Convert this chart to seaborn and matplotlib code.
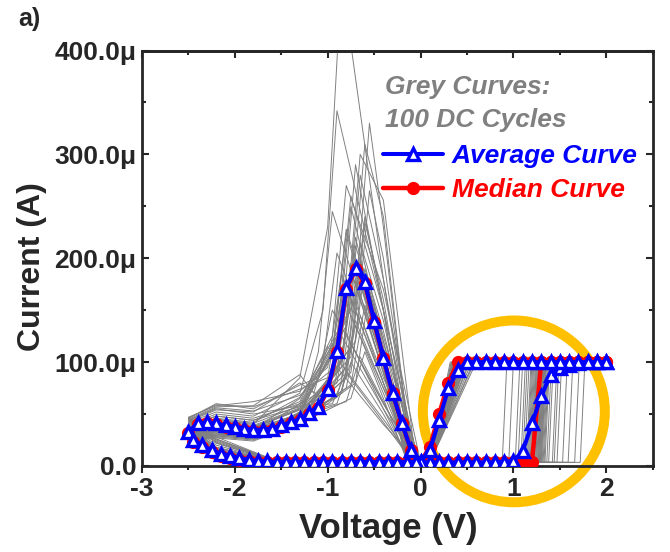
import numpy as np
import pandas as pd
import matplotlib
matplotlib.use('Agg')
import matplotlib.pyplot as plt
import seaborn as sns
from matplotlib.lines import Line2D
from matplotlib.patches import Ellipse
from matplotlib.ticker import FuncFormatter, MultipleLocator

# ---- sweep voltages (V), 0.1 V steps ----
v_up = [0.0, 0.1, 0.2, 0.3, 0.4, 0.5, 0.6, 0.7, 0.8, 0.9, 1.0,
        1.1, 1.2, 1.3, 1.4, 1.5, 1.6, 1.7, 1.8, 1.9, 2.0]
v_down = v_up[::-1]
v_neg = [0.0, -0.1, -0.2, -0.3, -0.4, -0.5, -0.6, -0.7, -0.8, -0.9, -1.0, -1.1, -1.2,
         -1.3, -1.4, -1.5, -1.6, -1.7, -1.8, -1.9, -2.0, -2.1, -2.2, -2.3, -2.4, -2.5]
v_back = [-2.45, -2.35, -2.25, -2.15, -2.05, -1.95, -1.85, -1.75, -1.65, -1.55, -1.45,
          -1.35, -1.25, -1.15, -1.05, -0.95, -0.85, -0.75, -0.65, -0.55, -0.45, -0.35,
          -0.25, -0.15, -0.05]

# ---- average curve (uA) ----
avg_up = [3.5, 3.5, 3.5, 3.5, 3.5, 3.5, 3.5, 3.5, 3.5, 4, 5, 14, 41, 67, 88, 94, 97, 99, 100, 100, 100]
avg_down = [100, 100, 100, 100, 100, 100, 100, 100, 100, 100, 100, 100, 100, 100, 100, 100, 92, 75, 44, 15, 4]
avg_neg = [4, 15, 41, 70, 104, 140, 177, 191, 171, 111, 74, 57, 51, 45, 42, 39, 36, 35, 35, 36,
           38, 39, 41, 42, 41, 33]
avg_back = [25, 20, 15, 12, 10, 7.5, 6, 5, 4.5, 4, 4, 4, 4, 4, 4, 4, 4, 4, 4, 4, 4, 4, 4, 4, 4]

# ---- median curve (uA) ----
med_up = [3.5, 3.5, 3.5, 3.5, 3.5, 3.5, 3.5, 3.5, 3.5, 3.5, 3.5, 3.5, 3.5, 100, 100, 100, 100, 100, 100, 100, 100]
med_down = [100, 100, 100, 100, 100, 100, 100, 100, 100, 100, 100, 100, 100, 100, 100, 100, 100, 80, 50, 18, 4]
med_neg = [4, 15, 41, 70, 104, 139, 176, 190, 170, 110, 73, 56, 50, 44, 41, 38, 35, 34, 34, 35,
           37, 38, 40, 41, 40, 32]
med_back = [23, 18, 13, 10, 8, 6, 4.5, 4, 3.5, 3.5, 3.5, 3.5, 3.5, 3.5, 3.5, 3.5, 3.5, 3.5, 3.5,
            3.5, 3.5, 3.5, 3.5, 3.5, 3.5]

# ---- grey cycles: key points of each DC cycle (V, uA) ----
set_v = [1.22, 0.88, 1.28, 1.15, 1.30, 1.42, 1.20, 0.95, 1.25, 1.34, 1.10, 1.27, 1.53, 1.18, 1.30,
         1.02, 1.24, 1.66, 1.28, 1.12, 1.36, 1.20, 1.47, 1.26, 1.16, 1.72, 1.22, 1.32, 1.05, 1.59,
         1.23, 1.29, 1.19, 1.31, 1.26, 1.14, 1.33, 1.21, 1.27, 1.08, 1.38, 1.24, 1.29, 1.17, 1.44]
on_v = [0.42, 0.35, 0.50, 0.38, 0.45, 0.33, 0.55, 0.40, 0.36, 0.48, 0.43, 0.39, 0.60, 0.37, 0.44,
        0.34, 0.52, 0.41, 0.38, 0.46, 0.35, 0.58, 0.40, 0.37, 0.47, 0.32, 0.43, 0.39, 0.50, 0.36,
        0.41, 0.38, 0.45, 0.36, 0.49, 0.43, 0.34, 0.47, 0.40, 0.53, 0.37, 0.44, 0.39, 0.57, 0.42]
toe_v = [-0.08, -0.02, -0.10, -0.05, -0.12, 0.00, -0.07, -0.03, -0.14, -0.09, -0.04, -0.11, -0.06,
         -0.01, -0.13, -0.08, -0.05, -0.02, -0.10, -0.15, -0.07, -0.03, -0.12, -0.09, -0.04,
         -0.06, -0.14, -0.11, -0.02, -0.08, -0.10, -0.05, -0.03, -0.13, -0.07, -0.01, -0.09,
         -0.12, -0.06, -0.04, -0.15, -0.08, -0.11, -0.02, -0.07]
shoulder_i = [180, 150, 240, 256, 150, 170, 200, 120, 90, 160, 100, 110, 140, 85, 95,
              90, 130, 80, 100, 115, 80, 60, 80, 70, 55, 45, 65, 50, 40, 42,
              230, 180, 150, 150, 110, 125, 120, 90, 100, 75, 95, 75, 55, 60, 62]
peak_v = [-0.85, -0.90, -0.60, -0.65, -0.70, -0.80, -0.55, -0.75, -0.95, -0.60, -0.80, -0.70, -0.65,
          -0.90, -0.70, -0.75, -0.60, -0.85, -0.65, -0.55, -0.75, -0.95, -0.65, -0.70, -0.85,
          -1.00, -0.60, -0.75, -0.90, -0.80,
          -0.55, -0.65, -0.75, -0.60, -0.80, -0.70, -0.65, -0.75, -0.70, -0.85, -0.60, -0.70,
          -0.80, -0.75, -0.65]
peak_i = [470, 342, 310, 300, 290, 270, 265, 250, 245, 235, 225, 220, 215, 205, 200,
          195, 190, 185, 175, 170, 160, 150, 145, 135, 125, 115, 110, 100, 95, 90,
          330, 280, 260, 240, 228, 212, 198, 188, 178, 165, 155, 140, 128, 118, 105]
reset_i = [230, 150, 150, 140, 130, 125, 120, 115, 110, 105, 105, 100, 95, 100, 95,
           90, 90, 95, 85, 80, 80, 85, 75, 70, 75, 70, 65, 60, 65, 60,
           160, 135, 125, 115, 110, 100, 95, 92, 85, 85, 78, 72, 70, 66, 62]
knee_i = [85, 70, 60, 55, 50, 62, 48, 55, 45, 52, 58, 44, 40, 66, 47,
          50, 42, 72, 46, 40, 54, 78, 43, 48, 60, 88, 41, 50, 80, 56,
          65, 52, 58, 44, 50, 68, 46, 54, 49, 74, 45, 42, 57, 51, 47]
band_a = [40, 48, 32, 36, 30, 44, 28, 38, 33, 27, 50, 31, 26, 42, 35,
          29, 34, 62, 30, 25, 37, 55, 28, 33, 46, 58, 24, 36, 52, 39,
          35, 29, 41, 27, 33, 53, 30, 37, 31, 57, 28, 26, 44, 34, 32]
band_b = [45, 52, 36, 40, 33, 48, 30, 42, 38, 31, 55, 35, 29, 46, 39,
          33, 37, 58, 34, 28, 41, 60, 32, 36, 50, 57, 27, 40, 54, 44,
          39, 33, 45, 30, 37, 56, 34, 41, 35, 59, 31, 29, 48, 38, 36]
end_i = [36, 42, 30, 33, 28, 38, 27, 34, 31, 26, 44, 29, 25, 37, 32,
         28, 30, 47, 29, 24, 33, 46, 27, 30, 40, 45, 24, 32, 43, 35,
         31, 28, 36, 25, 30, 44, 28, 33, 29, 46, 26, 25, 39, 31, 30]
ret_i = [16, 22, 11, 13, 9, 18, 8, 14, 12, 7, 24, 10, 6, 17, 13,
         9, 11, 28, 10, 6, 14, 26, 8, 11, 20, 25, 5, 12, 23, 15,
         12, 9, 15, 6, 10, 22, 8, 13, 9, 26, 7, 6, 18, 11, 10]

rows = []
for k in range(len(set_v)):
    pts_v = [0.0, set_v[k], set_v[k] + 0.05, 2.0, on_v[k], 0.1, toe_v[k], -0.4, peak_v[k],
             peak_v[k] - 0.15, -1.3, -1.8, -2.2, -2.5, -2.2, -1.5, 0.0]
    pts_i = [3.5, 3.5, 100, 100, 100, 3.5, 3.5, shoulder_i[k], peak_i[k],
             reset_i[k], knee_i[k], band_a[k], band_b[k], end_i[k], ret_i[k], 3, 3.5]
    for j, (v, i) in enumerate(zip(pts_v, pts_i)):
        rows.append({'cycle': k, 'step': j, 'V': v, 'I': i})
grey_df = pd.DataFrame(rows)

avg_v = v_up + v_down + v_neg + v_back
avg_i = avg_up + avg_down + avg_neg + avg_back
med_v = v_up + v_down + v_neg + v_back
med_i = med_up + med_down + med_neg + med_back

sns.set_style('ticks')
plt.rcParams['font.family'] = ['Liberation Sans', 'DejaVu Sans']
plt.rcParams['font.weight'] = 'bold'
plt.rcParams['axes.labelweight'] = 'bold'
plt.rcParams['axes.unicode_minus'] = False

fig = plt.figure(figsize=(6.7, 5.52), dpi=100)
ax = fig.add_axes([0.2119, 0.1558, 0.7622, 0.7527])

sns.lineplot(data=grey_df, x='V', y='I', units='cycle', estimator=None, sort=False,
             color='#808080', lw=0.7, ax=ax, legend=False, zorder=1)

ring = Ellipse((1.005, 52.6), 1.96, 175, fill=False, edgecolor='#FFC000', lw=7.2,
               clip_on=False, zorder=1.5)
ax.add_patch(ring)

sns.lineplot(x=med_v, y=med_i, sort=False, estimator=None, color='red', lw=3.2,
             marker='o', ms=8.5, mec='red', mew=1, ax=ax, zorder=3)
sns.lineplot(x=avg_v, y=avg_i, sort=False, estimator=None, color='blue', lw=2.9,
             marker='^', ms=9, mfc='white', mec='blue', mew=2.4, ax=ax, zorder=4)

ax.set_xlim(-3, 2.5)
ax.set_ylim(0, 400)
ax.xaxis.set_major_locator(MultipleLocator(1))
ax.xaxis.set_minor_locator(MultipleLocator(0.5))
ax.yaxis.set_major_locator(MultipleLocator(100))
ax.yaxis.set_minor_locator(MultipleLocator(50))
ax.yaxis.set_major_formatter(FuncFormatter(lambda v, p: '0.0' if v == 0 else f'{v:.1f}\u03bc'))

for s in ax.spines.values():
    s.set_linewidth(2)
    s.set_visible(True)
ax.tick_params(axis='x', which='both', direction='out', width=1.5, labelsize=19, pad=3)
ax.tick_params(axis='y', which='both', direction='in', right=True, width=1.5, labelsize=19, pad=4)
ax.tick_params(which='major', length=5)
ax.tick_params(which='minor', length=3)

top = ax.secondary_xaxis('top')
top.xaxis.set_major_locator(MultipleLocator(1))
top.xaxis.set_minor_locator(MultipleLocator(0.5))
top.tick_params(axis='x', which='both', direction='in', labeltop=False, width=1.5)
top.tick_params(which='major', length=5)
top.tick_params(which='minor', length=3)
top.spines['top'].set_linewidth(2)

ax.set_xlabel('Voltage (V)', fontsize=25)
ax.set_ylabel('Current (A)', fontsize=23)
ax.xaxis.set_label_coords(0.482, -0.11)
ax.yaxis.set_label_coords(-0.186, 0.479)

txt_kw = dict(transform=ax.transAxes, color='#808080', fontsize=19, fontstyle='italic',
              fontweight='bold', va='center', ha='left')
ax.text(0.476, 0.912, 'Grey Curves:', **txt_kw)
ax.text(0.476, 0.832, '100 DC Cycles', **txt_kw)

handles = [
    Line2D([], [], color='blue', lw=2.9, marker='^', ms=9, mfc='white', mec='blue', mew=2.4),
    Line2D([], [], color='red', lw=3.2, marker='o', ms=8.5, mec='red'),
]
ax.legend(handles, ['Average Curve', 'Median Curve'], loc='center left',
          bbox_to_anchor=(0.472, 0.705), frameon=False, borderpad=0, borderaxespad=0,
          handlelength=2.27, handletextpad=0.34, labelspacing=0.37,
          labelcolor=['blue', 'red'],
          prop={'family': 'Liberation Sans', 'weight': 'bold', 'style': 'italic', 'size': 19})

fig.text(0.027, 0.988, 'a)', fontsize=18, fontweight='bold', va='top', ha='left')

fig.savefig('out.png', dpi=100)
